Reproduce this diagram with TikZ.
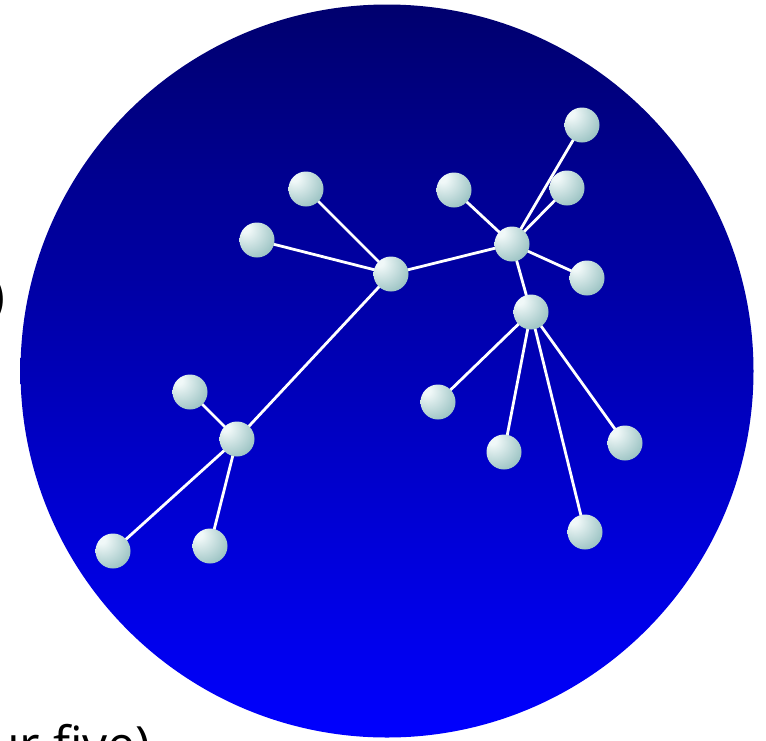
\documentclass[tikz,border=0pt]{standalone}
\usepackage{fontspec}
\setmainfont{Open Sans}
\definecolor{topblue}{RGB}{0,0,110}
\definecolor{botblue}{RGB}{0,0,255}
\definecolor{balllight}{RGB}{240,248,248}
\definecolor{balldark}{RGB}{75,145,145}
\pgfdeclareradialshading{myball}{\pgfpoint{-18bp}{18bp}}{%
  color(0bp)=(balllight); color(6bp)=(balllight); color(70bp)=(balldark); color(90bp)=(balldark)}
\tikzset{
  ball/.style={circle, minimum size=35pt, inner sep=0pt, shading=myball},
  link/.style={draw=white, line width=2.8pt},
  bigtext/.style={font=\fontsize{50}{60}\selectfont, text=black, inner sep=0pt}
}
\begin{document}
\begin{tikzpicture}[x=1pt,y=-1pt]
\useasboundingbox (0,0) rectangle (766,740);
\clip (0,0) rectangle (766,740);
\shade[top color=topblue, bottom color=botblue] (387,371) circle (366.5);
\node[bigtext, anchor=base east] (paren) at (5,313) {)};
\node[bigtext, anchor=base east] (txt) at (151,762) {ur five)};
% nodes
\coordinate (p1) at (582,125);
\coordinate (p2) at (306,189);
\coordinate (p3) at (454,190);
\coordinate (p4) at (567,188);
\coordinate (p5) at (257,240);
\coordinate (pA) at (512,244);
\coordinate (pB) at (391,274);
\coordinate (p8) at (587,278);
\coordinate (pC) at (531,312);
\coordinate (p10) at (190,392);
\coordinate (p11) at (438,402);
\coordinate (pD) at (237,439);
\coordinate (p13) at (625,443);
\coordinate (p14) at (504,452);
\coordinate (p15) at (585,532);
\coordinate (p16) at (113,551);
\coordinate (p17) at (210,546);
\foreach \a/\b in {pB/p2,pB/p5,pB/pA,pB/pD,pA/p1,pA/p3,pA/p4,pA/p8,pA/pC,pC/p11,pC/p14,pC/p13,pC/p15,pD/p10,pD/p16,pD/p17}
  \draw[link] (\a) -- (\b);
\foreach \p in {p1,p2,p3,p4,p5,pA,pB,p8,pC,p10,p11,pD,p13,p14,p15,p16,p17}
  \node[ball] (n\p) at (\p) {};
\end{tikzpicture}
\end{document}
